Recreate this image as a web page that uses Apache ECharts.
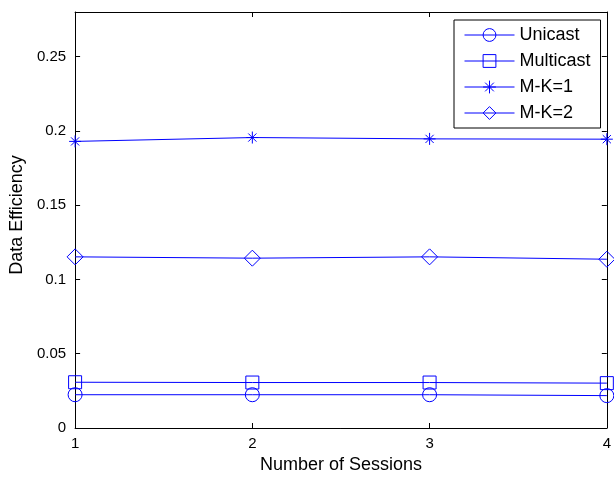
<!DOCTYPE html>
<html>
<head>
<meta charset="utf-8">
<script src="https://cdn.jsdelivr.net/npm/echarts@6/dist/echarts.min.js"></script>
<style>
  html, body { margin: 0; padding: 0; background: #fff; }
  #chart { width: 614px; height: 479px; }
</style>
</head>
<body>
<div id="chart"></div>
<script>
// Number of sessions on the x axis
const sessions = [1, 2, 3, 4];
// Data efficiency per scheme
const unicast   = [0.0224, 0.0224, 0.0224, 0.0218];
const multicast = [0.0308, 0.0306, 0.0306, 0.0302];
const mk1       = [0.1929, 0.1955, 0.1946, 0.1944];
const mk2       = [0.1152, 0.1143, 0.1152, 0.1136];
const seriesNames = ['Unicast', 'Multicast', 'M-K=1', 'M-K=2'];
const yTicks = [0, 0.05, 0.1, 0.15, 0.2, 0.25];

const BLUE = '#0000ff';
const FONT = '"Liberation Sans", Arial, Helvetica, sans-serif';
const ASTERISK = 'path://M0,5L10,5M5,0L5,10M1.6,1.6L8.4,8.4M1.6,8.4L8.4,1.6';

function pairs(vals) {
  return sessions.map((s, i) => [s, vals[i]]);
}

function makeSeries(name, vals, symbol, size) {
  return {
    name: name,
    type: 'line',
    data: pairs(vals),
    symbol: symbol,
    symbolSize: size,
    showAllSymbol: true,
    clip: false,
    animation: false,
    color: BLUE,
    lineStyle: { color: BLUE, width: 1 },
    itemStyle: { color: 'transparent', borderColor: BLUE, borderWidth: 1 },
    emphasis: { disabled: true }
  };
}

const chart = echarts.init(document.getElementById('chart'), null, { renderer: 'canvas' });

const tickStyle = { show: true, inside: true, length: 5, lineStyle: { color: '#000', width: 1 } };
const axisLine = { show: true, onZero: false, lineStyle: { color: '#000', width: 1 } };

chart.setOption({
  backgroundColor: '#fff',
  animation: false,
  grid: { left: 73, right: 6, top: 12, bottom: 47, containLabel: false },
  legend: {
    data: seriesNames,
    orient: 'vertical',
    left: 454,
    top: 20,
    padding: [6, 10, 6, 10],
    itemGap: 8,
    itemWidth: 50,
    itemHeight: 16,
    itemStyle: { borderWidth: 1 },
    lineStyle: { color: BLUE, width: 1 },
    backgroundColor: '#fff',
    borderColor: '#000',
    borderWidth: 1,
    borderRadius: 0,
    textStyle: { color: '#000', fontFamily: FONT, fontSize: 18, lineHeight: 18 }
  },
  xAxis: [
    {
      type: 'value',
      min: 1, max: 4, interval: 1,
      name: 'Number of Sessions',
      nameLocation: 'middle',
      nameGap: 28,
      nameTextStyle: { color: '#000', fontFamily: FONT, fontSize: 18 },
      axisLine: axisLine,
      axisTick: tickStyle,
      axisLabel: { color: '#000', fontFamily: FONT, fontSize: 15, margin: 8 },
      splitLine: { show: false }
    },
    {
      type: 'value', position: 'top',
      min: 1, max: 4, interval: 1,
      axisLine: axisLine,
      axisTick: tickStyle,
      axisLabel: { show: false },
      splitLine: { show: false }
    }
  ],
  yAxis: [
    {
      type: 'value',
      min: 0, max: 0.28, interval: 0.05,
      name: 'Data Efficiency',
      nameLocation: 'middle',
      nameGap: 46,
      nameTextStyle: { color: '#000', fontFamily: FONT, fontSize: 18, padding: [0, 0, 0, 10] },
      axisLine: axisLine,
      axisTick: tickStyle,
      axisLabel: {
        color: '#000', fontFamily: FONT, fontSize: 15, margin: 9,
        formatter: v => (yTicks.some(t => Math.abs(t - v) < 1e-9) ? String(+v.toFixed(2)) : '')
      },
      splitLine: { show: false }
    },
    {
      type: 'value', position: 'right',
      min: 0, max: 0.28, interval: 0.05,
      axisLine: axisLine,
      axisTick: tickStyle,
      axisLabel: { show: false },
      splitLine: { show: false }
    }
  ],
  series: [
    makeSeries(seriesNames[0], unicast, 'circle', 14),
    makeSeries(seriesNames[1], multicast, 'rect', 13),
    makeSeries(seriesNames[2], mk1, ASTERISK, 12),
    makeSeries(seriesNames[3], mk2, 'diamond', 16)
  ]
});
</script>
</body>
</html>
